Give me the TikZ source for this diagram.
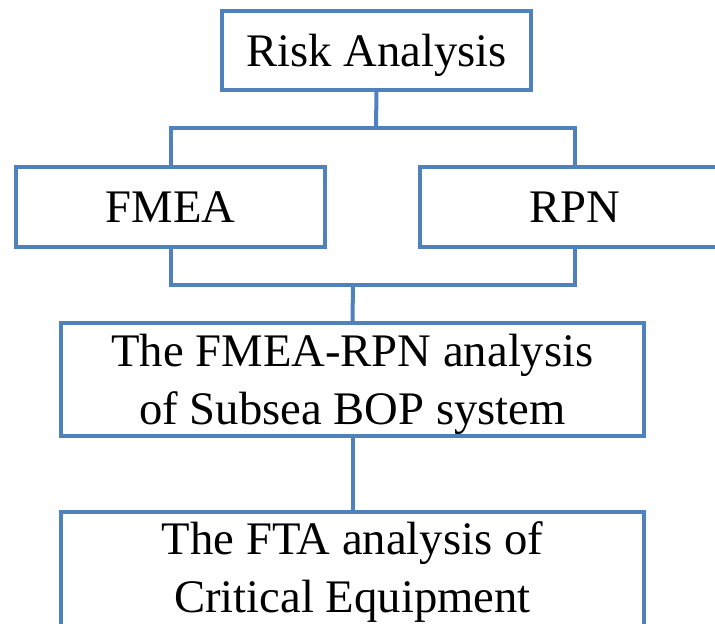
\documentclass[tikz,border=0pt]{standalone}
\usepackage{fontspec}
\setmainfont{Liberation Serif}
\usetikzlibrary{shadows}

\definecolor{boxblue}{RGB}{79,129,189}

\tikzset{every picture/.style={line width=3pt}}
\tikzset{
  flowbox/.style={draw=boxblue, fill=white, line width=3pt, inner sep=0pt,
    align=center, text depth=0pt, font=\fontsize{35}{43.5}\selectfont,
    drop shadow={opacity=0.25, shadow xshift=1.5pt, shadow yshift=-1.5pt}},
  link/.style={draw=boxblue, line width=3pt}
}

\begin{document}
\begin{tikzpicture}[x=0.75pt,y=0.75pt,yscale=-1,xscale=1]
\useasboundingbox (0,0) rectangle (715,624);
\clip (0,0) rectangle (715,624);

% Boxes
\node [flowbox, minimum width=231.75pt, minimum height=59.25pt] (risk) at (376.5,50.5) {Risk Analysis};
\node [flowbox, minimum width=231.75pt, minimum height=60pt] (fmea) at (170.5,207) {FMEA};
\node [flowbox, minimum width=231.75pt, minimum height=60pt] (rpn) at (574.5,207) {RPN};
\node [flowbox, minimum width=437.25pt, minimum height=84.75pt] (fmearpn) at (352.5,379.5) {The FMEA-RPN analysis\\of Subsea BOP system};
\node [flowbox, text depth=, minimum width=437.25pt, minimum height=90pt] (fta) at (352.5,572) {The FTA analysis of\\Critical Equipment};

% Junction points
\coordinate (split) at (376,128);
\coordinate (join) at (353,285);

% Connectors
\draw [link] (risk.south) -- (split);
\draw [link] (split) -| (fmea.north);
\draw [link] (split) -| (rpn.north);
\draw [link] (fmea.south) |- (join);
\draw [link] (rpn.south) |- (join);
\draw [link] (join) -- (fmearpn.north);
\draw [link] (fmearpn.south) -- (fta.north);

\end{tikzpicture}
\end{document}
